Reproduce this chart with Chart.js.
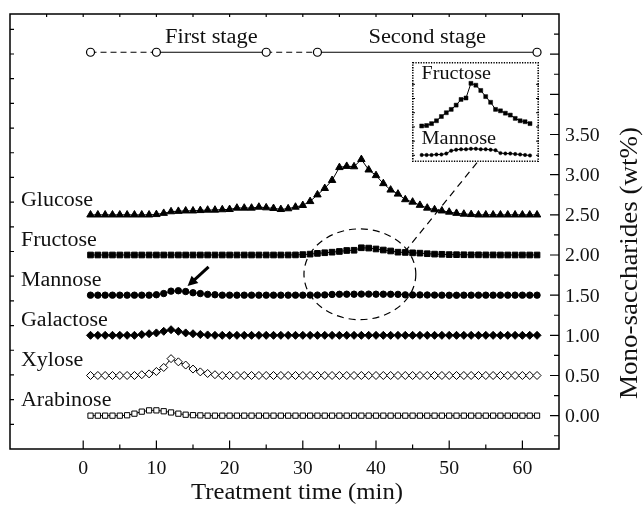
<!DOCTYPE html>
<html>
<head>
<meta charset="utf-8">
<script src="https://cdn.jsdelivr.net/npm/chart.js@4.4.1/dist/chart.umd.min.js"></script>
<style>
  html, body { margin: 0; padding: 0; background: #fff; }
  #wrap { position: relative; width: 644px; height: 509px; }
  #inset-chart { position: absolute; left: 412px; top: 62px; }
</style>
</head>
<body>
<div id="wrap">
  <canvas id="main-chart" width="644" height="509"></canvas>
  <canvas id="inset-chart" width="127" height="100"></canvas>
</div>
<script>
// treatment time (min)
const times = [
  1, 2, 3, 4, 5, 6, 7, 8, 9, 10, 11, 12, 13, 14, 15, 16, 17, 18, 19, 20,
  21, 22, 23, 24, 25, 26, 27, 28, 29, 30, 31, 32, 33, 34, 35, 36, 37, 38, 39, 40,
  41, 42, 43, 44, 45, 46, 47, 48, 49, 50, 51, 52, 53, 54, 55, 56, 57, 58, 59, 60,
  61, 62
];

// mono-saccharides, wt% (each curve shifted by 0.5)
const glucose = [
  2.50, 2.50, 2.50, 2.50, 2.50, 2.50, 2.50, 2.50, 2.50, 2.505,
  2.52, 2.54, 2.545, 2.55, 2.55, 2.555, 2.56, 2.56, 2.565, 2.568,
  2.585, 2.585, 2.585, 2.597, 2.589, 2.581, 2.568, 2.577, 2.597, 2.618,
  2.667, 2.75, 2.83, 2.93, 3.09, 3.105, 3.10, 3.19, 3.06, 2.99,
  2.89, 2.81, 2.76, 2.69, 2.66, 2.62, 2.585, 2.565, 2.55, 2.535,
  2.52, 2.51, 2.505, 2.50, 2.50, 2.50, 2.50, 2.50, 2.50, 2.50,
  2.50, 2.50
];
const fructose = [
  2.00, 2.00, 2.00, 2.00, 2.00, 2.00, 2.00, 2.00, 2.00, 2.00,
  2.00, 2.00, 2.00, 2.00, 2.00, 2.00, 2.00, 2.00, 2.00, 2.00,
  2.00, 2.00, 2.00, 2.00, 2.00, 2.00, 2.00, 2.000, 2.001, 2.005,
  2.011, 2.020, 2.028, 2.035, 2.044, 2.056, 2.059, 2.090, 2.086, 2.075,
  2.062, 2.050, 2.035, 2.032, 2.027, 2.023, 2.016, 2.011, 2.009, 2.005,
  2.004, 2.003, 2.002, 2.002, 2.001, 2.001, 2.00, 2.00, 2.00, 2.00,
  2.00, 2.00
];
const mannose = [
  1.50, 1.50, 1.50, 1.50, 1.50, 1.50, 1.50, 1.50, 1.50, 1.505,
  1.52, 1.55, 1.555, 1.545, 1.53, 1.52, 1.51, 1.505, 1.50, 1.50,
  1.50, 1.50, 1.50, 1.50, 1.50, 1.50, 1.50, 1.500, 1.500, 1.500,
  1.501, 1.501, 1.503, 1.509, 1.511, 1.512, 1.512, 1.513, 1.513, 1.512,
  1.512, 1.511, 1.510, 1.504, 1.503, 1.503, 1.502, 1.501, 1.500, 1.499,
  1.499, 1.50, 1.50, 1.50, 1.50, 1.50, 1.50, 1.50, 1.50, 1.50,
  1.50, 1.50
];
const galactose = [
  1.00, 1.00, 1.00, 1.00, 1.00, 1.00, 1.00, 1.01, 1.02, 1.03,
  1.05, 1.07, 1.05, 1.03, 1.02, 1.01, 1.005, 1.00, 1.00, 1.00,
  1.00, 1.00, 1.00, 1.00, 1.00, 1.00, 1.00, 1.00, 1.00, 1.00,
  1.00, 1.00, 1.00, 1.00, 1.00, 1.00, 1.00, 1.00, 1.00, 1.00,
  1.00, 1.00, 1.00, 1.00, 1.00, 1.00, 1.00, 1.00, 1.00, 1.00,
  1.00, 1.00, 1.00, 1.00, 1.00, 1.00, 1.00, 1.00, 1.00, 1.00,
  1.00, 1.00
];
const xylose = [
  0.50, 0.50, 0.50, 0.50, 0.50, 0.50, 0.50, 0.51, 0.52, 0.55,
  0.60, 0.71, 0.67, 0.63, 0.58, 0.545, 0.525, 0.51, 0.50, 0.50,
  0.50, 0.50, 0.50, 0.50, 0.50, 0.50, 0.50, 0.50, 0.50, 0.50,
  0.50, 0.50, 0.50, 0.50, 0.50, 0.50, 0.50, 0.50, 0.50, 0.50,
  0.50, 0.50, 0.50, 0.50, 0.50, 0.50, 0.50, 0.50, 0.50, 0.50,
  0.50, 0.50, 0.50, 0.50, 0.50, 0.50, 0.50, 0.50, 0.50, 0.50,
  0.50, 0.50
];
const arabinose = [
  0.00, 0.00, 0.00, 0.00, 0.00, 0.005, 0.025, 0.05, 0.066, 0.066,
  0.055, 0.04, 0.025, 0.012, 0.006, 0.003, 0.00, 0.00, 0.00, 0.00,
  0.00, 0.00, 0.00, 0.00, 0.00, 0.00, 0.00, 0.00, 0.00, 0.00,
  0.00, 0.00, 0.00, 0.00, 0.00, 0.00, 0.00, 0.00, 0.00, 0.00,
  0.00, 0.00, 0.00, 0.00, 0.00, 0.00, 0.00, 0.00, 0.00, 0.00,
  0.00, 0.00, 0.00, 0.00, 0.00, 0.00, 0.00, 0.00, 0.00, 0.00,
  0.00, 0.00
];

const seriesNames = ['Glucose', 'Fructose', 'Mannose', 'Galactose', 'Xylose', 'Arabinose'];
const stageTimes = [1, 10, 25, 32, 62];
const stageNames = ['First stage', 'Second stage'];
const xTickLabels = [0, 10, 20, 30, 40, 50, 60];
const yTickLabels = [0, 0.5, 1.0, 1.5, 2.0, 2.5, 3.0, 3.5];
// inset zooms on 28 - 50 min
const insetStart = 28;
const insetEnd = 50;

const FONT = '"Liberation Serif", "Times New Roman", serif';

function points(values) {
  return times.map((t, i) => ({ x: t, y: values[i] }));
}

function series(values, style, radius, filled) {
  return {
    data: points(values),
    borderColor: '#000',
    borderWidth: 1,
    pointStyle: style,
    pointRadius: radius,
    pointBackgroundColor: filled ? '#000' : '#fff',
    pointBorderColor: '#000',
    pointBorderWidth: 1,
    tension: 0,
  };
}

function stretchText(ctx, text, x, y, size, align, stretch) {
  ctx.save();
  ctx.font = size + 'px ' + FONT;
  ctx.fillStyle = '#111';
  ctx.textAlign = align || 'left';
  ctx.textBaseline = 'alphabetic';
  ctx.translate(x, y);
  ctx.scale(stretch || 1.1, 1);
  ctx.fillText(text, 0, 0);
  ctx.restore();
}

const mainSeries = [glucose, fructose, mannose, galactose, xylose, arabinose];

const decorPlugin = {
  id: 'decor',
  afterDraw(chart) {
    const ctx = chart.ctx;
    const a = chart.chartArea;
    const xs = chart.scales.x;
    const ys = chart.scales.y;
    const yl = chart.scales.yl;
    const px = (v) => xs.getPixelForValue(v);
    const py = (v) => ys.getPixelForValue(v);

    ctx.save();
    ctx.strokeStyle = '#000';
    ctx.lineWidth = 1.5;
    ctx.strokeRect(a.left, a.top, a.right - a.left, a.bottom - a.top);

    // ticks
    ctx.lineWidth = 1.2;
    ctx.beginPath();
    for (let v = -5; v < 65; v += 5) {
      const x = px(v);
      ctx.moveTo(x, a.top);
      ctx.lineTo(x, a.top + 3);
      if (v >= 0) {
        const len = v % 10 === 0 ? 8.5 : 4.5;
        ctx.moveTo(x, a.bottom);
        ctx.lineTo(x, a.bottom - len);
      }
    }
    for (let k = -1; k <= 19; k++) {
      const v = k * 0.25;
      const len = k % 2 === 0 ? 9 : 5;
      ctx.moveTo(a.right, py(v));
      ctx.lineTo(a.right - len, py(v));
    }
    for (let v = 1; v <= 17; v++) {
      ctx.moveTo(a.left, yl.getPixelForValue(v));
      ctx.lineTo(a.left + 4, yl.getPixelForValue(v));
    }
    ctx.stroke();

    // tick labels
    xTickLabels.forEach((v) => stretchText(ctx, String(v), px(v), a.bottom + 25, 18, 'center', 1.1));
    yTickLabels.forEach((v) => stretchText(ctx, v.toFixed(2), a.right + 6, py(v) + 6.5, 18, 'left', 1.1));

    // axis titles
    stretchText(ctx, 'Treatment time (min)', 297, 499, 22.5, 'center', 1.1);
    ctx.save();
    ctx.translate(637, 263);
    ctx.rotate(-Math.PI / 2);
    stretchText(ctx, 'Mono-saccharides (wt%)', 0, 0, 25, 'center', 1.08);
    ctx.restore();

    // series names
    seriesNames.forEach((name, i) => {
      stretchText(ctx, name, px(-8.5), py(mainSeries[i][0] + 0.115), 20, 'left', 1.1);
    });

    // stage names
    const sy = py(4.524 + 0.12);
    stretchText(ctx, stageNames[0], px((stageTimes[1] + stageTimes[2]) / 2), sy, 20, 'center', 1.12);
    stretchText(ctx, stageNames[1], px((stageTimes[3] + stageTimes[4]) / 2), sy, 20, 'center', 1.12);

    // dashed ellipse and connector to the inset
    ctx.setLineDash([7, 5]);
    ctx.lineWidth = 1.2;
    const cx = px(37.8), cy = py(1.76);
    ctx.beginPath();
    ctx.ellipse(cx, cy, px(37.8 + 7.64) - cx, cy - py(1.76 + 0.565), 0, 0, Math.PI * 2);
    ctx.stroke();
    ctx.beginPath();
    ctx.moveTo(px(53.8), py(3.15));
    ctx.lineTo(px(44.2), py(2.07));
    ctx.stroke();
    ctx.setLineDash([]);

    // arrow to the mannose bump
    const tx = px(17.13), ty = py(1.852);
    const hx = px(14.26), hy = py(1.613);
    const ang = Math.atan2(hy - ty, hx - tx);
    ctx.lineWidth = 3;
    ctx.beginPath();
    ctx.moveTo(tx, ty);
    ctx.lineTo(hx - 7 * Math.cos(ang), hy - 7 * Math.sin(ang));
    ctx.stroke();
    ctx.fillStyle = '#000';
    ctx.beginPath();
    ctx.moveTo(hx, hy);
    ctx.lineTo(hx - 10 * Math.cos(ang) + 5 * Math.sin(ang), hy - 10 * Math.sin(ang) - 5 * Math.cos(ang));
    ctx.lineTo(hx - 10 * Math.cos(ang) - 5 * Math.sin(ang), hy - 10 * Math.sin(ang) + 5 * Math.cos(ang));
    ctx.closePath();
    ctx.fill();
    ctx.restore();
  },
};

new Chart(document.getElementById('main-chart'), {
  type: 'line',
  data: {
    datasets: [
      series(glucose, 'triangle', 4.3, true),
      series(fructose, 'rect', 4.0, true),
      series(mannose, 'circle', 3.2, true),
      series(galactose, 'rectRot', 4.0, true),
      series(xylose, 'rectRot', 4.0, false),
      series(arabinose, 'rect', 3.7, false),
      {
        data: stageTimes.map((t) => ({ x: t, y: 4.524 })),
        borderColor: '#000',
        borderWidth: 1.2,
        pointStyle: 'circle',
        pointRadius: 4,
        pointBackgroundColor: '#fff',
        pointBorderColor: '#000',
        pointBorderWidth: 1.2,
        segment: {
          borderDash: (ctx) => (ctx.p0DataIndex % 2 === 0 ? [6, 4] : undefined),
        },
      },
    ],
  },
  options: {
    responsive: false,
    animation: false,
    layout: { padding: { left: 10, top: 14, right: 85, bottom: 60 }, autoPadding: false },
    plugins: { legend: { display: false }, tooltip: { enabled: false } },
    scales: {
      x: { type: 'linear', display: false, min: -10, max: 65 },
      y: { type: 'linear', display: false, min: -0.415, max: 5.0 },
      yl: { type: 'linear', display: false, position: 'left', min: 0, max: 17.62 },
    },
  },
  plugins: [decorPlugin],
});

// inset: fructose and mannose between 28 and 50 min
const i0 = times.indexOf(insetStart);
const i1 = times.indexOf(insetEnd) + 1;

const insetPlugin = {
  id: 'insetDecor',
  afterDraw(chart) {
    const ctx = chart.ctx;
    const a = chart.chartArea;
    const yt = chart.scales.yt;
    ctx.save();
    ctx.strokeStyle = '#000';
    ctx.lineWidth = 1.6;
    ctx.setLineDash([1.3, 1.3]);
    ctx.strokeRect(a.left + 0.8, a.top + 0.8, a.right - a.left - 1.6, a.bottom - a.top - 1.6);
    ctx.setLineDash([]);
    ctx.lineWidth = 1;
    ctx.beginPath();
    for (let v = 0; v <= 5; v++) {
      const y = yt.getPixelForValue(v);
      ctx.moveTo(a.left, y);
      ctx.lineTo(a.left + 3, y);
      ctx.moveTo(a.right, y);
      ctx.lineTo(a.right - 3, y);
    }
    ctx.stroke();
    ctx.restore();
    stretchText(ctx, seriesNames[1], a.left + 9.5, a.top + 16.5, 18, 'left', 1.12);
    stretchText(ctx, seriesNames[2], a.left + 9.5, a.top + 81.5, 18.5, 'left', 1.1);
  },
};

new Chart(document.getElementById('inset-chart'), {
  type: 'line',
  data: {
    datasets: [
      {
        data: times.slice(i0, i1).map((t, i) => ({ x: t, y: fructose[i0 + i] })),
        yAxisID: 'yf',
        borderColor: '#000',
        borderWidth: 1,
        pointStyle: 'rect',
        pointRadius: 2.8,
        pointBackgroundColor: '#000',
        pointBorderColor: '#000',
        pointBorderWidth: 0.5,
      },
      {
        data: times.slice(i0, i1).map((t, i) => ({ x: t, y: mannose[i0 + i] })),
        yAxisID: 'ym',
        borderColor: '#000',
        borderWidth: 1,
        pointStyle: 'circle',
        pointRadius: 1.7,
        pointBackgroundColor: '#000',
        pointBorderColor: '#000',
        pointBorderWidth: 0.5,
      },
    ],
  },
  options: {
    responsive: false,
    animation: false,
    layout: { padding: 0, autoPadding: false },
    plugins: { legend: { display: false }, tooltip: { enabled: false } },
    scales: {
      x: { type: 'linear', display: false, min: 26.03, max: 51.83 },
      yf: { type: 'linear', display: false, min: 1.924, max: 2.135 },
      ym: { type: 'linear', display: false, min: 1.4852, max: 1.6962 },
      yt: { type: 'linear', display: false, min: -0.47, max: 6.57 },
    },
  },
  plugins: [insetPlugin],
});
</script>
</body>
</html>
